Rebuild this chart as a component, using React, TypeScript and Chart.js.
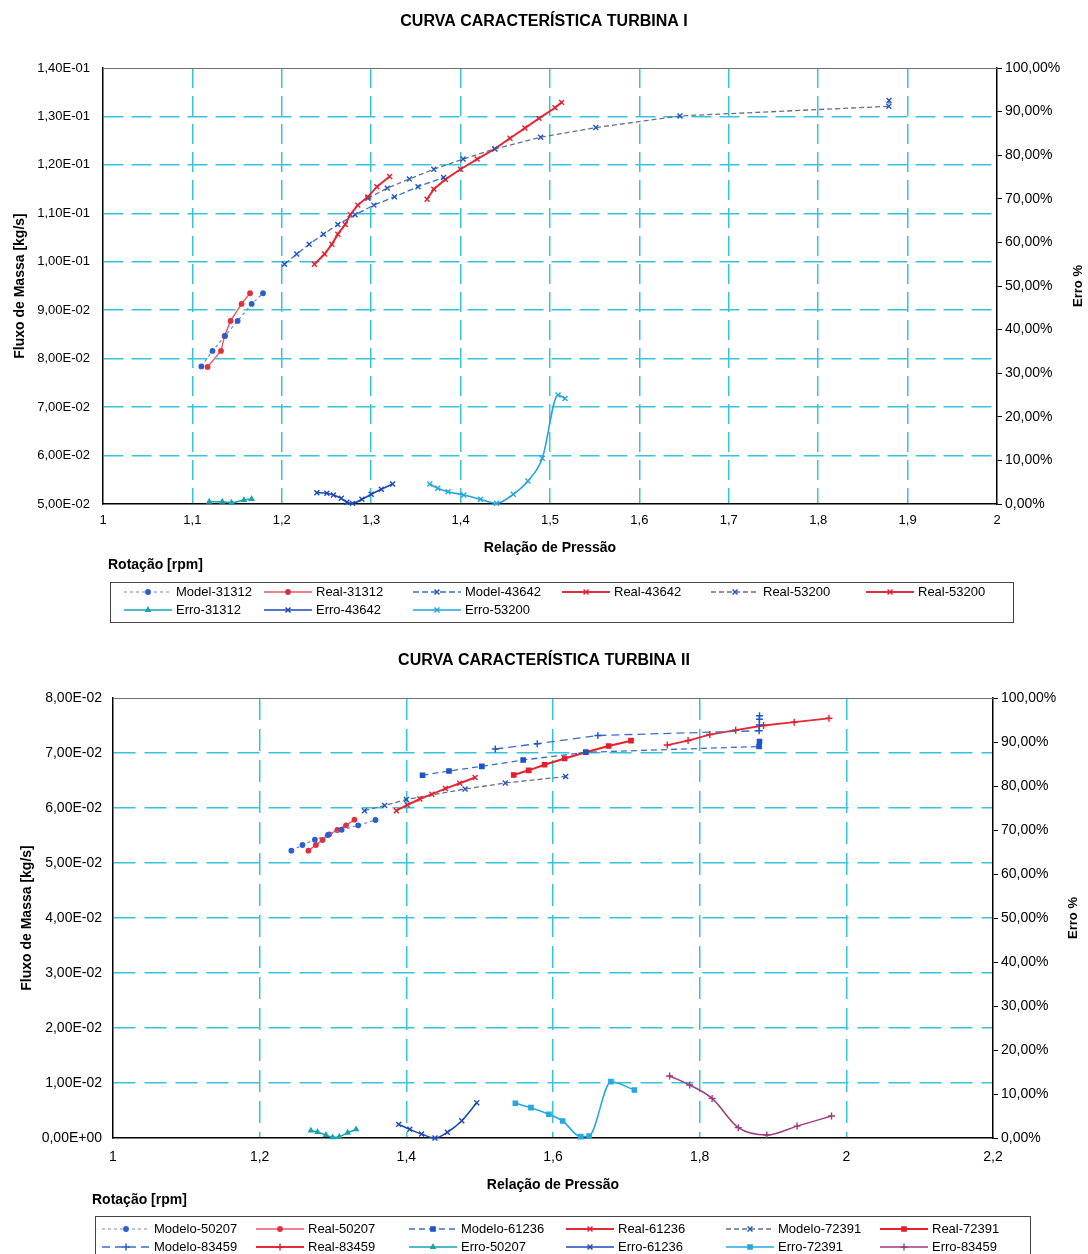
import { useEffect, useRef } from 'react';
import { Chart, registerables } from 'chart.js';
import { drawPoint } from 'chart.js/helpers';

Chart.register(...registerables);

const FONT = "'Liberation Sans', Arial, Helvetica, sans-serif";
const GRID = '#35c4dc';

// ================= TURBINA I =================
const t1Title = 'CURVA CARACTERÍSTICA TURBINA I';
const t1XMin = 1, t1XMax = 2, t1XStep = 0.1;
const t1YMin = 0.05, t1YMax = 0.14, t1YStep = 0.01;
const errMin = 0, errMax = 100, errStep = 10;

const t1Model31312X = [1.110, 1.1225, 1.1365, 1.1506, 1.1663, 1.179];
const t1Model31312Y = [0.0784, 0.0816, 0.0847, 0.0878, 0.0913, 0.0935];
const t1Real31312X = [1.117, 1.132, 1.136, 1.1427, 1.155, 1.1645];
const t1Real31312Y = [0.0783, 0.0816, 0.0847, 0.0878, 0.0913, 0.0935];
const t1Model43642X = [1.203, 1.2167, 1.2306, 1.2466, 1.2627, 1.282, 1.303, 1.326, 1.3524, 1.381];
const t1Model43642Y = [0.0995, 0.1016, 0.1036, 0.1057, 0.1077, 0.1097, 0.1117, 0.1134, 0.1155, 0.1174];
const t1Real43642X = [1.2365, 1.2478, 1.256, 1.2627, 1.271, 1.2765, 1.285, 1.2963, 1.3064, 1.3206];
const t1Real43642Y = [0.0995, 0.1016, 0.1036, 0.1057, 0.1077, 0.1097, 0.1117, 0.1134, 0.1155, 0.1176];
const t1Model53200X = [1.2963, 1.318, 1.3427, 1.370, 1.4028, 1.4383, 1.4895, 1.5512, 1.6454, 1.879, 1.8792];
const t1Model53200Y = [0.1131, 0.1152, 0.1171, 0.1191, 0.1212, 0.1233, 0.1257, 0.1277, 0.1301, 0.1321, 0.1333];
const t1Real53200X = [1.3625, 1.370, 1.383, 1.3999, 1.4185, 1.4383, 1.4552, 1.472, 1.4877, 1.5056, 1.513];
const t1Real53200Y = [0.1129, 0.1150, 0.1170, 0.1191, 0.1212, 0.1233, 0.1255, 0.1276, 0.1296, 0.1318, 0.1329];
const t1Erro31312X = [1.1188, 1.1334, 1.1438, 1.1577, 1.1663];
const t1Erro31312E = [0.53, 0.53, 0.3, 0.92, 1.15];
const t1Erro43642X = [1.2392, 1.2504, 1.2578, 1.2665, 1.2728, 1.2791, 1.2896, 1.300, 1.3113, 1.324];
const t1Erro43642E = [2.6, 2.45, 2.06, 1.3, 0.39, 0.15, 1.07, 2.22, 3.37, 4.59];
const t1Erro53200X = [1.3655, 1.3744, 1.386, 1.4036, 1.4223, 1.4402, 1.4589, 1.4753, 1.4914, 1.509, 1.5168];
const t1Erro53200E = [4.59, 3.6, 2.82, 2.06, 1.08, 0.16, 2.22, 5.28, 10.48, 25.0, 24.2];

// ================= TURBINA II =================
const t2Title = 'CURVA CARACTERÍSTICA TURBINA II';
const t2XMin = 1, t2XMax = 2.2, t2XStep = 0.2;
const t2YMin = 0, t2YMax = 0.08, t2YStep = 0.01;

const t2Modelo50207X = [1.2432, 1.2584, 1.2753, 1.2931, 1.3118, 1.3343, 1.358];
const t2Modelo50207Y = [0.05224, 0.05327, 0.05424, 0.05509, 0.05605, 0.05685, 0.05782];
const t2Real50207X = [1.2665, 1.2767, 1.2857, 1.2949, 1.3059, 1.3178, 1.3292];
const t2Real50207Y = [0.05224, 0.05327, 0.05418, 0.05522, 0.0560, 0.05685, 0.05787];
const t2Modelo61236X = [1.4221, 1.4582, 1.503, 1.5593, 1.6447, 1.8810, 1.8816];
const t2Modelo61236Y = [0.06595, 0.06673, 0.06758, 0.06873, 0.07013, 0.07118, 0.07209];
const t2Real61236X = [1.3864, 1.4012, 1.4184, 1.4348, 1.4534, 1.4728, 1.4938];
const t2Real61236Y = [0.05951, 0.06055, 0.06164, 0.06251, 0.06353, 0.06449, 0.06555];
const t2Modelo72391X = [1.3429, 1.3704, 1.4001, 1.4801, 1.535, 1.6173];
const t2Modelo72391Y = [0.05951, 0.06045, 0.06155, 0.06345, 0.06455, 0.06573];
const t2Real72391X = [1.5464, 1.5669, 1.5885, 1.6159, 1.6447, 1.6759, 1.7064];
const t2Real72391Y = [0.0660, 0.06685, 0.06787, 0.0690, 0.07013, 0.07127, 0.07224];
const t2Modelo83459X = [1.5213, 1.5785, 1.6612, 1.8811, 1.8814, 1.8815, 1.8816];
const t2Modelo83459Y = [0.07073, 0.07169, 0.07318, 0.07405, 0.07509, 0.07613, 0.07678];
const t2Real83459X = [1.7558, 1.7842, 1.8138, 1.8491, 1.8871, 1.9289, 1.9763];
const t2Real83459Y = [0.07145, 0.07227, 0.07336, 0.07415, 0.075, 0.0756, 0.07631];
const t2Erro50207X = [1.2698, 1.2789, 1.2904, 1.2995, 1.3086, 1.32, 1.3315];
const t2Erro50207E = [1.67, 1.36, 0.68, 0.15, 0.3, 1.2, 1.97];
const t2Erro61236X = [1.3896, 1.4047, 1.4207, 1.439, 1.456, 1.4756, 1.496];
const t2Erro61236E = [3.1, 1.97, 0.9, 0.0, 1.3, 3.93, 8.0];
const t2Erro72391X = [1.5487, 1.570, 1.5944, 1.6132, 1.6379, 1.6493, 1.679, 1.711];
const t2Erro72391E = [7.9, 6.9, 5.4, 3.86, 0.3, 0.45, 12.8, 10.9];
const t2Erro83459X = [1.759, 1.7864, 1.817, 1.8527, 1.8916, 1.9328, 1.9798];
const t2Erro83459E = [14.1, 12.05, 9.0, 2.35, 0.68, 2.7, 5.0];

// ---------------- styles ----------------
type Sty = { color: string; point: string; dash: number[]; width: number; shape: string; r: number };
const sModelDot: Sty = { color: '#6a8ccc', point: '#2a5fd0', dash: [3, 3], width: 1.2, shape: 'circle', r: 2.2 };
const sRealDot: Sty = { color: '#e65868', point: '#e03040', dash: [], width: 1.4, shape: 'circle', r: 2.2 };
const sModelX: Sty = { color: '#3a6fc8', point: '#1f55c8', dash: [6, 3], width: 1.3, shape: 'crossRot', r: 3.5 };
const sModelGrayX: Sty = { color: '#68708a', point: '#1f55c8', dash: [5, 3], width: 1.3, shape: 'crossRot', r: 3.5 };
const sModelRect: Sty = { color: '#3a6fc8', point: '#1f55c8', dash: [6, 4], width: 1.3, shape: 'rect', r: 3 };
const sModelCross: Sty = { color: '#3a6fc8', point: '#1f55c8', dash: [8, 5], width: 1.3, shape: 'cross', r: 3.5 };
const sRealX: Sty = { color: '#e42a36', point: '#e02030', dash: [], width: 2, shape: 'crossRot', r: 3.5 };
const sRealRect: Sty = { color: '#e8202a', point: '#e02030', dash: [], width: 2, shape: 'rect', r: 3 };
const sRealCross: Sty = { color: '#e42a36', point: '#e02030', dash: [], width: 1.8, shape: 'cross', r: 3.5 };
const sErrTeal: Sty = { color: '#1aa3b0', point: '#1aa3b0', dash: [], width: 1.5, shape: 'triangle', r: 2.5 };
const sErrBlue: Sty = { color: '#1c48b8', point: '#1c48b8', dash: [], width: 1.6, shape: 'crossRot', r: 3.5 };
const sErrLight: Sty = { color: '#25a5e0', point: '#25a5e0', dash: [], width: 1.6, shape: 'crossRot', r: 3.5 };
const sErrLightRect: Sty = { color: '#28a8e2', point: '#28a8e2', dash: [], width: 1.6, shape: 'rect', r: 3 };
const sErrMag: Sty = { color: '#a03a80', point: '#a03a80', dash: [], width: 1.5, shape: 'cross', r: 3.5 };

type Series = { label: string; x: number[]; y: number[]; err: boolean; sty: Sty };

const t1Series: Series[] = [
  { label: 'Model-31312', x: t1Model31312X, y: t1Model31312Y, err: false, sty: sModelDot },
  { label: 'Real-31312', x: t1Real31312X, y: t1Real31312Y, err: false, sty: sRealDot },
  { label: 'Model-43642', x: t1Model43642X, y: t1Model43642Y, err: false, sty: sModelX },
  { label: 'Real-43642', x: t1Real43642X, y: t1Real43642Y, err: false, sty: sRealX },
  { label: 'Real-53200', x: t1Model53200X, y: t1Model53200Y, err: false, sty: sModelGrayX },
  { label: 'Real-53200', x: t1Real53200X, y: t1Real53200Y, err: false, sty: sRealX },
  { label: 'Erro-31312', x: t1Erro31312X, y: t1Erro31312E, err: true, sty: sErrTeal },
  { label: 'Erro-43642', x: t1Erro43642X, y: t1Erro43642E, err: true, sty: sErrBlue },
  { label: 'Erro-53200', x: t1Erro53200X, y: t1Erro53200E, err: true, sty: sErrLight },
];

const t2Series: Series[] = [
  { label: 'Modelo-50207', x: t2Modelo50207X, y: t2Modelo50207Y, err: false, sty: sModelDot },
  { label: 'Real-50207', x: t2Real50207X, y: t2Real50207Y, err: false, sty: sRealDot },
  { label: 'Modelo-61236', x: t2Modelo61236X, y: t2Modelo61236Y, err: false, sty: sModelRect },
  { label: 'Real-61236', x: t2Real61236X, y: t2Real61236Y, err: false, sty: sRealX },
  { label: 'Modelo-72391', x: t2Modelo72391X, y: t2Modelo72391Y, err: false, sty: sModelGrayX },
  { label: 'Real-72391', x: t2Real72391X, y: t2Real72391Y, err: false, sty: sRealRect },
  { label: 'Modelo-83459', x: t2Modelo83459X, y: t2Modelo83459Y, err: false, sty: sModelCross },
  { label: 'Real-83459', x: t2Real83459X, y: t2Real83459Y, err: false, sty: sRealCross },
  { label: 'Erro-50207', x: t2Erro50207X, y: t2Erro50207E, err: true, sty: sErrTeal },
  { label: 'Erro-61236', x: t2Erro61236X, y: t2Erro61236E, err: true, sty: sErrBlue },
  { label: 'Erro-72391', x: t2Erro72391X, y: t2Erro72391E, err: true, sty: sErrLightRect },
  { label: 'Erro-83459', x: t2Erro83459X, y: t2Erro83459E, err: true, sty: sErrMag },
];

// ---------------- layout ----------------
type Cfg = {
  title: string; series: Series[];
  pageTop: number; W: number; H: number;
  left: number; right: number; top: number; bottom: number;
  titleY: number;
  xMin: number; xMax: number; xStep: number;
  yMin: number; yMax: number; yStep: number;
  tickFont: number; xTickPad: number; yTickPad: number;
  yTitleX: number; xTitleY: number; errX: number;
  rpmX: number; rpmY: number;
  box: number[]; rows: number[]; cols: number[];
  dash: number[];
};

const cfg1: Cfg = {
  title: t1Title, series: t1Series,
  pageTop: 0, W: 1088, H: 640,
  left: 103, right: 997, top: 68, bottom: 504,
  titleY: 22,
  xMin: t1XMin, xMax: t1XMax, xStep: t1XStep,
  yMin: t1YMin, yMax: t1YMax, yStep: t1YStep,
  tickFont: 13, xTickPad: 9, yTickPad: 13,
  yTitleX: 20, xTitleY: 548, errX: 1078,
  rpmX: 108, rpmY: 565,
  box: [110, 582, 903, 40], rows: [592, 610], cols: [176, 316, 465, 614, 763, 918],
  dash: [20, 8],
};

const cfg2: Cfg = {
  title: t2Title, series: t2Series,
  pageTop: 640, W: 1088, H: 614,
  left: 113, right: 993, top: 58, bottom: 498,
  titleY: 21,
  xMin: t2XMin, xMax: t2XMax, xStep: t2XStep,
  yMin: t2YMin, yMax: t2YMax, yStep: t2YStep,
  tickFont: 14, xTickPad: 11, yTickPad: 11,
  yTitleX: 27, xTitleY: 545, errX: 1073,
  rpmX: 92, rpmY: 560,
  box: [95, 576, 935, 50], rows: [589, 607], cols: [154, 308, 461, 618, 778, 932],
  dash: [22, 9],
};

function fmtE(v: number): string {
  const r = Math.round(v * 1e6) / 1e6;
  const [m, e] = r.toExponential(2).split('e');
  const n = parseInt(e, 10);
  const sign = n < 0 ? '-' : '+';
  const abs = Math.abs(n).toString().padStart(2, '0');
  return `${m.replace('.', ',')}E${sign}${abs}`;
}
function fmtX(v: number): string {
  const r = Math.round(v * 10) / 10;
  return Number.isInteger(r) ? String(r) : r.toFixed(1).replace('.', ',');
}

const near = (a: number, b: number) => Math.abs(a - b) < 1e-9;

const decoPlugin = {
  id: 'deco',
  afterDraw(chart: any, _args: any, o: any) {
    const { ctx, chartArea: a } = chart;
    ctx.save();
    ctx.strokeStyle = '#707070';
    ctx.lineWidth = 1;
    ctx.beginPath();
    ctx.moveTo(a.left, a.top + 0.5);
    ctx.lineTo(a.right, a.top + 0.5);
    ctx.stroke();

    // Erro % title (reads bottom to top)
    ctx.save();
    ctx.fillStyle = '#000';
    ctx.font = `bold 13px ${FONT}`;
    ctx.textAlign = 'center';
    ctx.textBaseline = 'middle';
    ctx.translate(o.errX, (a.top + a.bottom) / 2);
    ctx.rotate(-Math.PI / 2);
    ctx.fillText('Erro %', 0, 0);
    ctx.restore();

    // Rotação label
    ctx.fillStyle = '#000';
    ctx.font = `bold 14px ${FONT}`;
    ctx.textAlign = 'left';
    ctx.textBaseline = 'middle';
    ctx.fillText('Rotação [rpm]', o.rpmX, o.rpmY);

    // legend box
    const [bx, by, bw, bh] = o.box;
    ctx.strokeStyle = '#444';
    ctx.lineWidth = 1;
    ctx.strokeRect(bx + 0.5, by + 0.5, bw, bh);

    chart.data.datasets.forEach((ds: any, i: number) => {
      const col = i % 6;
      const row = Math.floor(i / 6);
      const tx = o.cols[col];
      const ty = o.rows[row];
      ctx.save();
      ctx.strokeStyle = ds.borderColor;
      ctx.lineWidth = ds.borderWidth;
      ctx.setLineDash(ds.borderDash || []);
      ctx.beginPath();
      ctx.moveTo(tx - 52, ty);
      ctx.lineTo(tx - 4, ty);
      ctx.stroke();
      ctx.setLineDash([]);
      ctx.fillStyle = ds.pointBackgroundColor;
      ctx.strokeStyle = ds.pointBorderColor;
      ctx.lineWidth = ds.pointBorderWidth;
      drawPoint(ctx, { pointStyle: ds.pointStyle, radius: ds.pointRadius, borderWidth: ds.pointBorderWidth, rotation: 0 }, tx - 28, ty);
      ctx.restore();
      ctx.fillStyle = '#000';
      ctx.font = `13px ${FONT}`;
      ctx.textAlign = 'left';
      ctx.textBaseline = 'middle';
      ctx.fillText(ds.label, tx, ty + 0.5);
    });
    ctx.restore();
  },
};

function buildConfig(c: Cfg): any {
  const datasets = c.series.map((s) => ({
    label: s.label,
    data: s.x.map((x, i) => ({ x, y: s.y[i] })),
    yAxisID: s.err ? 'y1' : 'y',
    borderColor: s.sty.color,
    backgroundColor: s.sty.point,
    pointBackgroundColor: s.sty.point,
    pointBorderColor: s.sty.point,
    borderWidth: s.sty.width,
    borderDash: s.sty.dash,
    pointStyle: s.sty.shape,
    pointRadius: s.sty.r,
    pointBorderWidth: 1.4,
    cubicInterpolationMode: s.err ? 'monotone' : 'default',
    tension: 0,
    fill: false,
    clip: 6,
  }));

  const tickFont = { family: FONT, size: c.tickFont };
  const titleFont = { family: FONT, size: 14, weight: 'bold' as const };

  return {
    type: 'line',
    data: { datasets },
    plugins: [decoPlugin],
    options: {
      responsive: false,
      animation: false,
      devicePixelRatio: 1,
      events: [],
      layout: { padding: 0 },
      plugins: {
        legend: { display: false },
        tooltip: { enabled: false },
        title: {
          display: true,
          text: c.title,
          color: '#000',
          font: { family: FONT, size: 16, weight: 'bold' },
          padding: { top: c.titleY - 9.6, bottom: c.top - c.titleY - 9.6 },
        },
        deco: {
          errX: c.errX, rpmX: c.rpmX, rpmY: c.rpmY,
          box: c.box, rows: c.rows, cols: c.cols,
        },
      },
      scales: {
        x: {
          type: 'linear',
          position: 'bottom',
          min: c.xMin,
          max: c.xMax,
          afterFit: (s: any) => { s.height = c.H - c.bottom; },
          ticks: {
            stepSize: c.xStep, autoSkip: false, maxRotation: 0, padding: c.xTickPad,
            color: '#000', font: tickFont, callback: (v: any) => fmtX(Number(v)),
          },
          grid: {
            drawTicks: false,
            lineWidth: 1.5,
            color: (ctx: any) => (ctx.tick && (near(ctx.tick.value, c.xMin) || near(ctx.tick.value, c.xMax)) ? 'rgba(0,0,0,0)' : GRID),
          },
          border: { display: true, color: '#000', width: 1.5, dash: c.dash },
          title: {
            display: true, text: 'Relação de Pressão', color: '#000', font: titleFont,
            padding: { top: 0, bottom: c.H - c.xTitleY - 8.4 },
          },
        },
        y: {
          type: 'linear',
          position: 'left',
          min: c.yMin,
          max: c.yMax,
          afterFit: (s: any) => { s.width = c.left; },
          ticks: {
            stepSize: c.yStep, autoSkip: false, padding: c.yTickPad,
            color: '#000', font: tickFont, callback: (v: any) => fmtE(Number(v)),
          },
          grid: {
            drawTicks: false,
            lineWidth: 1.5,
            color: (ctx: any) => (ctx.tick && (near(ctx.tick.value, c.yMin) || near(ctx.tick.value, c.yMax)) ? 'rgba(0,0,0,0)' : GRID),
          },
          border: { display: true, color: '#000', width: 1.5, dash: c.dash },
          title: {
            display: true, text: 'Fluxo de Massa [kg/s]', color: '#000', font: titleFont,
            padding: { top: c.yTitleX - 8.4, bottom: 0 },
          },
        },
        y1: {
          type: 'linear',
          position: 'right',
          min: errMin,
          max: errMax,
          afterFit: (s: any) => { s.width = c.W - c.right; },
          ticks: {
            stepSize: errStep, autoSkip: false, padding: 3,
            color: '#000', font: { family: FONT, size: 14 }, callback: (v: any) => `${Math.round(Number(v))},00%`,
          },
          grid: { drawOnChartArea: false, drawTicks: true, tickLength: 5, tickColor: '#000', tickWidth: 1 },
          border: { display: true, color: '#000', width: 1.5 },
          title: { display: false },
        },
      },
    },
  };
}

function TurbineChart({ c }: { c: Cfg }) {
  const ref = useRef<HTMLCanvasElement | null>(null);
  useEffect(() => {
    if (!ref.current) return;
    const chart = new Chart(ref.current, buildConfig(c));
    return () => chart.destroy();
  }, [c]);
  return (
    <canvas
      ref={ref}
      width={c.W}
      height={c.H}
      style={{ position: 'absolute', left: 0, top: c.pageTop, width: c.W, height: c.H, display: 'block' }}
    />
  );
}

export default function App() {
  return (
    <div style={{ position: 'absolute', left: 0, top: 0, width: 1088, height: 1254, background: '#fff', overflow: 'hidden' }}>
      <TurbineChart c={cfg1} />
      <TurbineChart c={cfg2} />
    </div>
  );
}
